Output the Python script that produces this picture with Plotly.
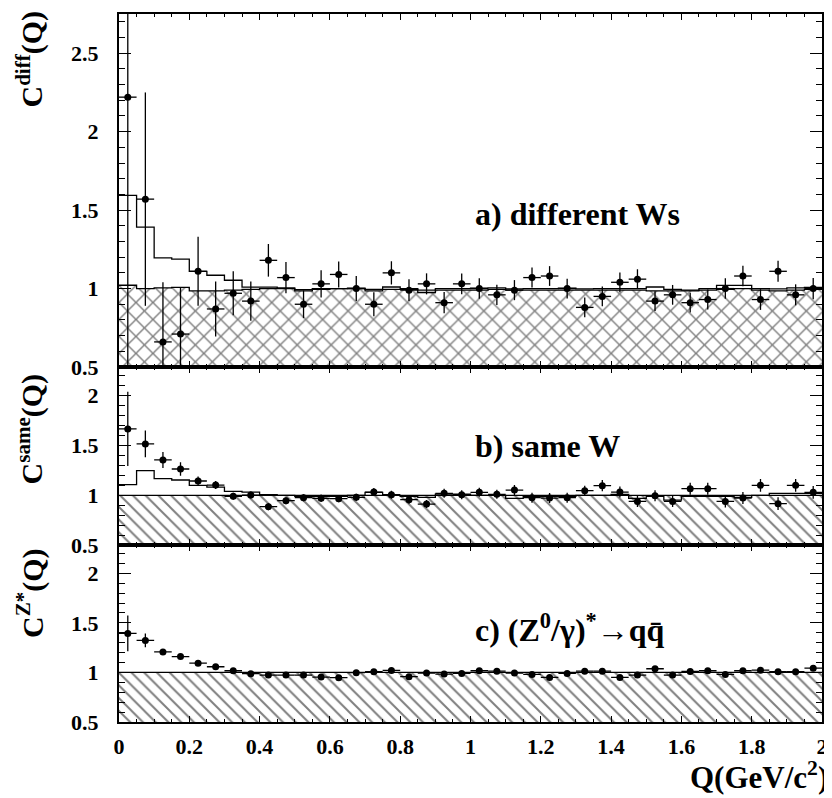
import plotly.graph_objects as go

# ---------------- data ----------------
q_edges = [0.0, 0.05, 0.1, 0.15, 0.2, 0.25, 0.3, 0.35, 0.4, 0.45, 0.5, 0.55, 0.6, 0.65, 0.7, 0.75,
           0.8, 0.85, 0.9, 0.95, 1.0, 1.05, 1.1, 1.15, 1.2, 1.25, 1.3, 1.35, 1.4, 1.45, 1.5, 1.55,
           1.6, 1.65, 1.7, 1.75, 1.8, 1.85, 1.9, 1.95, 2.0]
q_centers = [0.025, 0.075, 0.125, 0.175, 0.225, 0.275, 0.325, 0.375, 0.425, 0.475, 0.525, 0.575,
             0.625, 0.675, 0.725, 0.775, 0.825, 0.875, 0.925, 0.975, 1.025, 1.075, 1.125, 1.175,
             1.225, 1.275, 1.325, 1.375, 1.425, 1.475, 1.525, 1.575, 1.625, 1.675, 1.725, 1.775,
             1.825, 1.875, 1.925, 1.975]
q_halfwidth = [0.025] * 40

# a) different Ws
diff_data = [2.22, 1.57, 0.66, 0.71, 1.11, 0.87, 0.97, 0.92, 1.18, 1.07, 0.90, 1.03, 1.09, 1.00, 0.90,
             1.10, 0.99, 1.03, 0.91, 1.03, 1.00, 0.96, 0.99, 1.07, 1.08, 1.00, 0.88, 0.95, 1.04, 1.06,
             0.92, 0.96, 0.91, 0.93, 1.00, 1.08, 0.93, 1.11, 0.96, 1.00]
diff_err = [2.00, 0.68, 0.38, 0.30, 0.22, 0.175, 0.14, 0.125, 0.104, 0.10, 0.088, 0.087, 0.083, 0.08,
            0.076, 0.074, 0.07, 0.067, 0.068, 0.066, 0.065, 0.064, 0.064, 0.064, 0.063, 0.063, 0.063,
            0.063, 0.063, 0.063, 0.063, 0.063, 0.063, 0.064, 0.065, 0.066, 0.066, 0.067, 0.067, 0.068]
diff_mc = [1.594, 1.392, 1.195, 1.187, 1.110, 1.085, 1.053, 1.009, 1.009, 1.004, 0.993, 1.000, 1.000,
           1.003, 0.995, 1.010, 1.000, 0.990, 1.000, 1.000, 1.003, 1.005, 0.998, 1.000, 1.000, 1.003,
           0.998, 1.000, 1.000, 1.000, 1.010, 0.995, 0.990, 1.000, 1.020, 1.020, 1.000, 0.998, 1.005,
           1.008]
diff_bg = [1.021, 1.000, 1.004, 1.008, 0.985, 0.985, 0.990, 0.995, 1.000, 1.000, 0.985, 0.995, 1.000,
           1.000, 0.985, 0.995, 0.995, 0.975, 0.990, 0.990, 0.990, 0.995, 0.990, 0.990, 0.990, 0.990,
           0.990, 0.990, 0.990, 0.990, 0.985, 0.985, 0.985, 0.990, 0.995, 1.000, 0.990, 0.985, 0.990,
           0.995]

# b) same W
same_data = [1.663, 1.513, 1.353, 1.263, 1.143, 1.103, 0.990, 1.003, 0.887, 0.947, 0.977, 0.970, 0.967,
             0.980, 1.033, 1.007, 0.957, 0.913, 1.020, 1.007, 1.030, 1.010, 1.053, 0.977, 0.973, 0.977,
             1.047, 1.097, 1.033, 0.940, 0.997, 0.940, 1.067, 1.067, 0.940, 0.973, 1.100, 0.917, 1.100,
             1.030]
same_err = [0.37, 0.133, 0.08, 0.067, 0.045, 0.04, 0.035, 0.035, 0.035, 0.035, 0.035, 0.035, 0.035,
            0.035, 0.04, 0.04, 0.04, 0.04, 0.045, 0.045, 0.045, 0.045, 0.05, 0.05, 0.05, 0.05, 0.05,
            0.055, 0.055, 0.055, 0.055, 0.055, 0.06, 0.06, 0.06, 0.06, 0.063, 0.063, 0.063, 0.063]
same_mc = [1.107, 1.247, 1.167, 1.153, 1.100, 1.083, 1.040, 1.033, 1.007, 1.000, 0.990, 0.990, 0.990,
           1.000, 1.030, 1.000, 0.990, 0.980, 1.013, 1.013, 1.000, 1.000, 0.970, 0.990, 0.990, 0.990,
           1.000, 1.000, 1.010, 0.970, 0.990, 0.953, 0.990, 0.990, 0.990, 0.980, 1.000, 1.020, 1.020,
           1.020]
same_bg = [1.0, 1.0, 1.0, 1.0, 1.0, 1.0, 1.0, 1.0, 1.0, 1.0, 1.0, 1.0, 1.0, 1.0, 1.0, 1.0, 1.0, 1.0,
           1.0, 1.0, 1.0, 1.0, 1.0, 1.0, 1.0, 1.0, 1.0, 1.0, 1.0, 1.0, 1.0, 1.0, 1.0, 1.0, 1.0, 1.0,
           1.0, 1.0, 1.0, 1.0]

# c) (Z0/gamma)* -> q qbar
z_data = [1.393, 1.323, 1.207, 1.160, 1.093, 1.057, 1.017, 0.987, 0.973, 0.973, 0.973, 0.953, 0.947,
          0.997, 1.007, 1.020, 0.957, 0.993, 0.983, 0.990, 1.017, 1.013, 0.993, 0.980, 0.950, 0.990,
          1.013, 1.013, 0.950, 0.973, 1.037, 0.973, 1.010, 1.017, 0.980, 1.017, 1.023, 1.007, 1.007,
          1.043]
z_err = [0.18, 0.07, 0.03, 0.025, 0.02, 0.02, 0.015, 0.015, 0.015, 0.015, 0.015, 0.015, 0.015, 0.015,
         0.015, 0.015, 0.015, 0.015, 0.015, 0.015, 0.015, 0.015, 0.015, 0.015, 0.015, 0.015, 0.015,
         0.015, 0.015, 0.015, 0.015, 0.015, 0.015, 0.015, 0.015, 0.015, 0.015, 0.015, 0.015, 0.015]
z_bg = [1.0, 1.0, 1.0, 1.0, 1.0, 1.0, 1.0, 1.0, 1.0, 1.0, 1.0, 1.0, 1.0, 1.0, 1.0, 1.0, 1.0, 1.0,
        1.0, 1.0, 1.0, 1.0, 1.0, 1.0, 1.0, 1.0, 1.0, 1.0, 1.0, 1.0, 1.0, 1.0, 1.0, 1.0, 1.0, 1.0,
        1.0, 1.0, 1.0, 1.0]

x_ticks = [0, 0.2, 0.4, 0.6, 0.8, 1, 1.2, 1.4, 1.6, 1.8, 2]
x_ticktext = ["0", "0.2", "0.4", "0.6", "0.8", "1", "1.2", "1.4", "1.6", "1.8", "2"]
y_ticks = [0.5, 1, 1.5, 2, 2.5]
y_ticktext = ["0.5", "1", "1.5", "2", "2.5"]

panel_labels = ["a) different Ws", "b) same W", "c) (Z<sup>0</sup>/γ)<sup>*</sup>→qq\u0304"]
y_titles = ["C<sup>diff</sup>(Q)", "C<sup>same</sup>(Q)", "C<sup>Z*</sup>(Q)"]
x_title = "Q(GeV/c<sup>2</sup>)"

# ---------------- figure ----------------
FONT = "Liberation Serif, Times New Roman, serif"
fig = go.Figure()

panels = [
    dict(data=diff_data, err=diff_err, mc=diff_mc, bg=diff_bg, hatch="x", hsize=12, sol=0.22, x="x", y="y"),
    dict(data=same_data, err=same_err, mc=same_mc, bg=same_bg, hatch="\\", hsize=9, sol=0.22, x="x2", y="y2"),
    dict(data=z_data, err=z_err, mc=None, bg=z_bg, hatch="\\", hsize=9, sol=0.22, x="x3", y="y3"),
]

for p in panels:
    fig.add_trace(go.Bar(
        x=q_centers, y=p["bg"], width=0.05, xaxis=p["x"], yaxis=p["y"],
        marker=dict(color="white", line=dict(width=0),
                    pattern=dict(shape=p["hatch"], fgcolor="black", bgcolor="white",
                                 size=p["hsize"], solidity=p["sol"])),
        showlegend=False, hoverinfo="skip"))
    fig.add_trace(go.Scatter(
        x=q_edges, y=p["bg"] + [p["bg"][-1]], mode="lines", line_shape="hv",
        line=dict(color="black", width=1.3), xaxis=p["x"], yaxis=p["y"],
        showlegend=False, hoverinfo="skip"))
    if p["mc"] is not None:
        fig.add_trace(go.Scatter(
            x=q_edges, y=p["mc"] + [p["mc"][-1]], mode="lines", line_shape="hv",
            line=dict(color="black", width=1.3), xaxis=p["x"], yaxis=p["y"],
            showlegend=False, hoverinfo="skip"))
    fig.add_trace(go.Scatter(
        x=q_centers, y=p["data"], mode="markers", xaxis=p["x"], yaxis=p["y"],
        marker=dict(color="black", size=7, symbol="circle"),
        error_y=dict(type="data", array=p["err"], width=0, thickness=1.3, color="black"),
        error_x=dict(type="data", array=q_halfwidth, width=0, thickness=1.3, color="black"),
        showlegend=False))

# geometry (page body has an 8px margin, so the figure is offset by 8px)
OFF = 8
W, H = 832 - OFF, 798 - OFF
ml, mr, mt, mb = 119 - OFF, 5, 12 - OFF, 76
domains = [[0.5014, 1.0], [0.2493, 0.5014], [0.0, 0.2493]]
yranges = [[0.5, 2.75], [0.5, 2.28], [0.5, 2.28]]

tickfont = dict(family=FONT, size=22, color="black", weight="bold")
for i in range(3):
    sfx = "" if i == 0 else str(i + 1)
    xa = dict(
        range=[0, 2], anchor="y" + sfx, domain=[0, 1],
        showline=True, linecolor="black", linewidth=2, mirror="allticks",
        ticks="inside", ticklen=6, tickwidth=1, tickcolor="black",
        tickvals=x_ticks, ticktext=x_ticktext,
        minor=dict(ticks="inside", ticklen=3, dtick=0.05, tick0=0, tickcolor="black", tickwidth=1),
        showgrid=False, zeroline=False,
        showticklabels=(i == 2), tickfont=tickfont, ticklabelstandoff=4,
    )
    if i > 0:
        xa["matches"] = "x"
    ya = dict(
        range=yranges[i], anchor="x" + sfx, domain=domains[i],
        showline=True, linecolor="black", linewidth=2, mirror="allticks",
        ticks="inside", ticklen=12, tickwidth=1, tickcolor="black",
        tickvals=y_ticks, ticktext=y_ticktext,
        minor=dict(ticks="inside", ticklen=6, dtick=0.1, tick0=0, tickcolor="black", tickwidth=1),
        showgrid=False, zeroline=False, tickfont=tickfont, ticklabelstandoff=14,
    )
    fig.layout["xaxis" + sfx] = xa
    fig.layout["yaxis" + sfx] = ya

ann = []
label_y = [1.475, 1.49, 1.447]
for i in range(3):
    sfx = "" if i == 0 else str(i + 1)
    ann.append(dict(text=panel_labels[i], x=1.006, y=label_y[i], xref="x" + sfx, yref="y" + sfx,
                    xanchor="left", yanchor="middle", showarrow=False,
                    font=dict(family=FONT, size=32, color="black", weight="bold")))

plot_h = H - mt - mb
plot_w = W - ml - mr
title_centers = [57, 428, 593]
for i in range(3):
    ann.append(dict(text=y_titles[i], x=(30 - 119) / plot_w, y=1 - (title_centers[i] - 12) / plot_h,
                    xref="paper", yref="paper", xanchor="center", yanchor="middle",
                    textangle=-90, showarrow=False,
                    font=dict(family=FONT, size=30, color="black", weight="bold")))
ann.append(dict(text=x_title, x=1.012, y=1 - (776 - 12) / plot_h, xref="paper", yref="paper",
                xanchor="right", yanchor="middle", showarrow=False,
                font=dict(family=FONT, size=31, color="black", weight="bold")))

fig.update_layout(
    width=W, height=H, margin=dict(l=ml, r=mr, t=mt, b=mb, pad=0),
    paper_bgcolor="white", plot_bgcolor="white",
    bargap=0, barmode="overlay", showlegend=False,
    annotations=ann,
)

fig.write_html("out.html")
